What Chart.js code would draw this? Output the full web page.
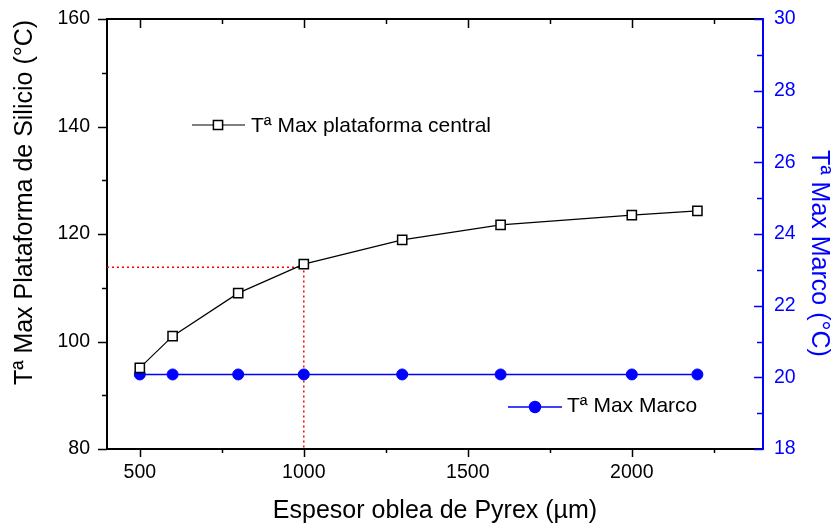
<!DOCTYPE html>
<html><head><meta charset="utf-8">
<script src="https://cdn.jsdelivr.net/npm/chart.js@4.4.0/dist/chart.umd.min.js"></script>
<style>html,body{margin:0;padding:0;background:#fff}#c{display:block}</style>
</head><body>
<div style="width:836px;height:523px"><canvas id="c" width="836" height="523"></canvas></div>
<script>
// ---- data ----
const thickness = [500, 600, 800, 1000, 1300, 1600, 2000, 2200];
const tPlatform = [95.1, 101.0, 109.0, 114.4, 118.9, 121.7, 123.5, 124.3];
const tFrame    = [20.08, 20.08, 20.08, 20.08, 20.08, 20.08, 20.08, 20.08];
const refX = [400, 1000, 1000];
const refY = [113.8, 113.8, 80];
const xTicks = [500, 1000, 1500, 2000];
const xMinor = [750, 1250, 1750, 2250];
const yLeftTicks = [80, 100, 120, 140, 160];
const yLeftMinor = [90, 110, 130, 150];
const yRightTicks = [18, 20, 22, 24, 26, 28, 30];
const yRightMinor = [19, 21, 23, 25, 27, 29];
const labelPlatform = 'Tª Max plataforma central';
const labelFrame = 'Tª Max Marco';
const titleX = 'Espesor oblea de Pyrex (µm)';
const titleYLeft = 'Tª Max Plataforma de Silicio (°C)';
const titleYRight = 'Tª Max Marco (°C)';

const FONT = '"Liberation Sans", Arial, sans-serif';
const BLUE = '#0000FF';

const toPts = (xs, ys) => xs.map((x, i) => ({x: x, y: ys[i]}));

const decor = {
  id: 'decor',
  afterDraw(chart) {
    const ctx = chart.ctx;
    const {left, right, top, bottom} = chart.chartArea;
    const xs = chart.scales.x, yl = chart.scales.y, yr = chart.scales.y2;
    const seg = (x1, y1, x2, y2) => { ctx.beginPath(); ctx.moveTo(x1, y1); ctx.lineTo(x2, y2); ctx.stroke(); };
    ctx.save();
    // top axis line
    ctx.strokeStyle = '#000'; ctx.lineWidth = 2;
    seg(left - 1, top, right, top);
    ctx.lineWidth = 1.5;
    xTicks.forEach(v => { const p = Math.round(xs.getPixelForValue(v)) + 0.5; seg(p, bottom, p, bottom + 8); seg(p, top, p, top + 9); });
    xMinor.forEach(v => { const p = Math.round(xs.getPixelForValue(v)) + 0.5; seg(p, bottom, p, bottom + 4); seg(p, top, p, top + 5); });
    yLeftTicks.forEach(v => { const p = Math.round(yl.getPixelForValue(v)) + 0.5; seg(left - 9, p, left, p); });
    yLeftMinor.forEach(v => { const p = Math.round(yl.getPixelForValue(v)) + 0.5; seg(left - 5, p, left, p); });
    ctx.strokeStyle = BLUE;
    yRightTicks.forEach(v => { const p = Math.round(yr.getPixelForValue(v)) + 0.5; seg(right - 9, p, right, p); });
    yRightMinor.forEach(v => { const p = Math.round(yr.getPixelForValue(v)) + 0.5; seg(right - 6, p, right, p); });
    ctx.lineWidth = 2;
    seg(right, top - 1, right, bottom + 1);

    // legends
    ctx.font = '21px ' + FONT;
    ctx.textBaseline = 'middle';
    ctx.textAlign = 'left';
    // legend 1
    let lx = left + 85, ly = top + 106;
    ctx.strokeStyle = '#000'; ctx.lineWidth = 1.2;
    seg(lx, ly, lx + 53, ly);
    ctx.fillStyle = '#fff'; ctx.strokeStyle = '#000'; ctx.lineWidth = 1.5;
    Chart.helpers.drawPoint(ctx, {pointStyle: 'rect', radius: 6.5, rotation: 0, borderWidth: 1.5}, lx + 26, ly);
    ctx.fillStyle = '#000';
    ctx.fillText(labelPlatform, lx + 59, ly + 1);
    // legend 2
    lx = left + 401; ly = top + 388;
    ctx.strokeStyle = BLUE; ctx.lineWidth = 1.5;
    seg(lx, ly, lx + 54, ly);
    ctx.fillStyle = BLUE;
    Chart.helpers.drawPoint(ctx, {pointStyle: 'circle', radius: 5.5, rotation: 0, borderWidth: 1}, lx + 27, ly);
    ctx.fillStyle = '#000';
    ctx.fillText(labelFrame, lx + 59, ly - 1);

    // axis titles
    ctx.font = '25px ' + FONT;
    ctx.textBaseline = 'alphabetic';
    ctx.textAlign = 'center';
    ctx.fillStyle = '#000';
    ctx.fillText(titleX, (left + right) / 2, 518);
    ctx.save();
    ctx.translate(32, 202.5);
    ctx.rotate(-Math.PI / 2);
    ctx.fillText(titleYLeft, 0, 0);
    ctx.restore();
    ctx.save();
    ctx.fillStyle = BLUE;
    ctx.translate(812, 253.5);
    ctx.rotate(Math.PI / 2);
    ctx.fillText(titleYRight, 0, 0);
    ctx.restore();
    ctx.restore();
  }
};

const tickFont = {family: FONT, size: 19.5};
const plain = v => String(v);
const fitY = w => s => { s.width = w; s.paddingTop = 0; s.paddingBottom = 0; };

new Chart(document.getElementById('c'), {
  type: 'line',
  data: {
    datasets: [
      {
        label: 'ref', data: toPts(refX, refY), yAxisID: 'y',
        borderColor: '#FF0000', borderWidth: 1.5, borderDash: [2, 3],
        pointRadius: 0, order: 3, tension: 0
      },
      {
        label: labelPlatform, data: toPts(thickness, tPlatform), yAxisID: 'y',
        borderColor: '#000', borderWidth: 1.2, tension: 0,
        pointStyle: 'rect', pointRadius: 6.5, pointBackgroundColor: '#fff',
        pointBorderColor: '#000', pointBorderWidth: 1.5, order: 1
      },
      {
        label: labelFrame, data: toPts(thickness, tFrame), yAxisID: 'y2',
        borderColor: BLUE, borderWidth: 1.5, tension: 0,
        pointStyle: 'circle', pointRadius: 5.5, pointBackgroundColor: BLUE,
        pointBorderColor: BLUE, pointBorderWidth: 1, order: 2
      }
    ]
  },
  options: {
    responsive: false, animation: false, devicePixelRatio: 1,
    layout: {padding: {top: 19, left: 0, right: 0, bottom: 0}},
    plugins: {legend: {display: false}, tooltip: {enabled: false}},
    scales: {
      x: {
        type: 'linear', position: 'bottom', min: 400, max: 2400,
        afterBuildTicks: s => { s.ticks = xTicks.map(v => ({value: v})); },
        afterFit: s => { s.height = 74; s.paddingLeft = 0; s.paddingRight = 0; },
        grid: {display: false, drawTicks: false},
        border: {display: true, color: '#000', width: 2},
        ticks: {font: tickFont, color: '#000', padding: 12, maxRotation: 0, autoSkip: false, callback: plain}
      },
      y: {
        type: 'linear', position: 'left', min: 80, max: 160,
        afterBuildTicks: s => { s.ticks = yLeftTicks.map(v => ({value: v})); },
        afterFit: fitY(107),
        grid: {display: false, drawTicks: false},
        border: {display: true, color: '#000', width: 2},
        ticks: {font: tickFont, color: '#000', padding: 17, autoSkip: false, callback: plain}
      },
      y2: {
        type: 'linear', position: 'right', min: 18, max: 30,
        afterBuildTicks: s => { s.ticks = yRightTicks.map(v => ({value: v})); },
        afterFit: fitY(73),
        grid: {display: false, drawTicks: false},
        border: {display: true, color: BLUE, width: 2},
        ticks: {font: tickFont, color: BLUE, padding: 11, autoSkip: false, callback: plain}
      }
    }
  },
  plugins: [decor]
});
</script>
</body></html>
